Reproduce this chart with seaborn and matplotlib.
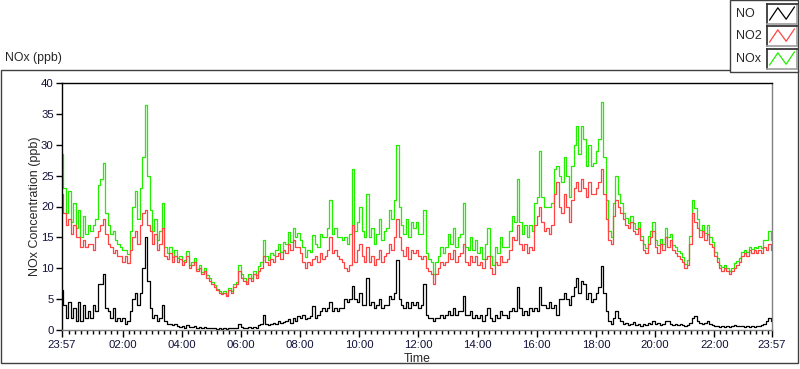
import numpy as np
import pandas as pd
import matplotlib
matplotlib.use("Agg")
import matplotlib.pyplot as plt
import seaborn as sns
from matplotlib.patches import Rectangle

# ---------------- data (5-minute samples starting 23:57) ----------------
NO2 = [
    22, 19, 17, 18, 15.5, 17, 15, 15, 13.5, 14.5, 13.5, 14,
    14, 13, 15, 16, 17, 18, 15.5, 14, 13.5, 12.5, 13, 12,
    12, 11, 12, 10.8, 13, 15, 16, 14, 17, 19, 19.5, 17,
    16, 14, 15.5, 13, 14, 16.5, 12, 11.5, 12.5, 11, 12, 11,
    11.5, 10.5, 11, 12, 10, 10.5, 11, 9.5, 10, 9, 9.5, 8.5,
    8, 7.5, 7, 6.5, 6, 5.8, 6, 5.5, 6.5, 6, 7, 7.5,
    9.5, 8.5, 8, 7.5, 8.5, 8, 9, 8.5, 9.5, 10, 12, 11,
    10.5, 11.5, 11, 12, 12.5, 11.5, 13, 12.5, 14, 13, 14.5, 13.5,
    13.5, 12.5, 11, 10, 11, 10.5, 11.5, 12, 11, 12.5, 11.5, 12,
    13, 15, 12.5, 13, 12, 11.5, 11, 10, 9.5, 10.5, 17, 11,
    13, 14, 12, 11, 13.5, 11, 12, 10.5, 11.5, 13, 11, 12,
    12.5, 14, 13, 15, 18, 15, 13, 12, 13.5, 11.5, 13, 12.5,
    13, 12, 11.5, 12, 10, 9.5, 9, 7.5, 9, 10, 11, 10.5,
    11, 12.5, 11.5, 13, 11, 12, 12.5, 14, 11, 10.5, 12, 11,
    12, 10.5, 11, 10, 11.5, 12, 10, 9, 11, 10.5, 12, 11,
    11, 11.5, 13, 15, 14.5, 17, 14, 13, 14, 12.5, 13.5, 13,
    17, 18.5, 20, 17.5, 16, 16.5, 15.5, 17, 22, 24, 20, 19,
    22, 20, 17.5, 21, 23, 24, 22.5, 24.5, 23, 21.5, 24, 22,
    22, 23, 24, 26, 22, 18, 14.5, 14, 18.5, 21, 20, 19,
    18, 17, 16.5, 17.5, 16, 15.5, 16.5, 14.5, 13, 12.5, 14, 15,
    16, 13.5, 12.5, 14, 13, 15, 13.5, 14.5, 13, 12.5, 12, 11.5,
    11, 10, 10.5, 14, 19, 17.5, 16.5, 15, 16, 14.5, 15.5, 14,
    13.5, 12, 11, 10, 9.5, 10, 9.5, 9, 9.5, 10, 10.5, 11,
    12, 12.5, 12, 13, 12.5, 13, 12.5, 13, 12.5, 13.5, 13, 14, 13,
]

NO = [
    6.5, 4, 2, 4.5, 2, 3.5, 1.5, 4.5, 1.5, 4, 2, 3,
    2, 4, 3, 7.5, 7.5, 9, 3.5, 3, 2, 3.5, 1.5, 2,
    1.5, 2, 1, 1.5, 3, 5, 6, 4, 6, 10, 15, 8,
    3.5, 2, 2.5, 1.5, 2, 4, 1.5, 1, 1, 0.8, 1, 0.7,
    0.5, 0.6, 0.4, 0.8, 0.5, 0.5, 0.7, 0.4, 0.5, 0.4, 0.5, 0.4,
    0.4, 0.3, 0.3, 0.2, 0.3, 0.2, 0.3, 0.2, 0.3, 0.3, 0.4, 0.3,
    1, 0.5, 0.4, 0.3, 0.5, 0.4, 0.5, 0.4, 0.8, 1, 2.5, 1,
    0.8, 1, 1.2, 1, 1.5, 1.2, 1.3, 1.5, 1.8, 1.2, 2, 1.5,
    2.2, 2, 2.5, 1.8, 2, 2.2, 3.9, 2, 2.5, 3, 3.5, 3,
    3.5, 4.5, 3, 3.5, 3, 3.5, 3.5, 5, 4.5, 5, 7.2, 5,
    4.5, 6, 4, 4, 8.5, 4, 4.5, 3.5, 4, 5, 3.5, 4,
    4, 5.5, 5, 6, 11.3, 5, 4, 3.5, 4.5, 3.5, 4.5, 4,
    4.5, 3.5, 4, 7.5, 2.5, 2, 2, 1.5, 2, 2, 2.5, 2,
    2.5, 3, 2.5, 3.5, 2.5, 3, 3, 5.5, 2.5, 2.5, 3, 2,
    2.5, 2, 2.5, 1.5, 2.5, 3.5, 2, 1.5, 2.5, 2, 3, 2.5,
    2.5, 2, 3, 3.5, 3, 7, 3.5, 2.5, 3, 2.5, 3.5, 3,
    3.5, 3, 7, 4, 4, 3.5, 4.5, 3.5, 4, 2.5, 5, 5,
    6, 5, 4, 5.5, 7, 8.5, 6, 8, 7.5, 5, 6, 4.5,
    5, 6, 7, 10.4, 6, 3, 1.5, 1, 2, 3, 2, 1.5,
    1, 1.2, 0.8, 1, 1.3, 0.8, 1, 0.7, 1, 0.8, 1.2, 1,
    1.5, 1, 1.2, 0.8, 1, 1.5, 1.5, 1, 0.8, 1, 0.8, 1,
    0.8, 0.7, 0.8, 1.2, 2, 2.2, 1.5, 1.2, 1, 1.2, 1.5, 1,
    0.8, 0.7, 0.6, 0.5, 0.7, 0.5, 0.6, 0.5, 0.6, 0.8, 0.7, 0.6,
    0.6, 0.5, 0.7, 0.5, 0.6, 0.5, 0.7, 0.6, 0.8, 1, 1.5, 2, 1.5,
]

NOX = [
    28.5, 23, 19, 22.5, 17.5, 20.5, 16.5, 19.5, 15, 18.5, 15.5, 17,
    16, 17, 18, 23.5, 24.5, 27, 19, 17, 15.5, 16, 14.5, 14,
    13.5, 13, 13, 12.3, 16, 20, 22.5, 18, 23, 28, 36.5, 25,
    19.5, 16, 18, 14.5, 16, 20.5, 13.5, 12.5, 13.5, 11.8, 13, 11.7,
    12, 11.1, 11.4, 12.8, 10.5, 11, 11.7, 9.9, 10.5, 9.4, 10, 8.9,
    8.4, 7.8, 7.3, 6.7, 6.3, 6, 6.3, 5.7, 6.8, 6.3, 7.4, 7.8,
    10.5, 9, 8.4, 7.8, 9, 8.4, 9.5, 8.9, 10.3, 11, 14.5, 12,
    11.3, 12.5, 12.2, 13, 14, 12.7, 14.3, 14, 15.8, 14.2, 16.5, 15,
    15.7, 14.5, 13.5, 11.8, 13, 12.7, 15.4, 14, 13.5, 15.5, 15, 15,
    16.5, 21, 15.5, 16.5, 15, 15, 14.5, 15, 14, 15.5, 26, 16,
    17.5, 20, 16, 15, 22, 15, 16.5, 14, 15.5, 18, 14.5, 16,
    16.5, 19.5, 18, 21, 30, 20, 17, 15.5, 18, 15, 17.5, 16.5,
    17.5, 15.5, 15.5, 19.5, 12.5, 11.5, 11, 9, 11, 12, 13.5, 12.5,
    13.5, 15.5, 14, 16.5, 13.5, 15, 15.5, 20.5, 13.5, 13, 15, 13,
    14.5, 12.5, 13.5, 11.5, 14, 16.5, 12, 10.5, 13.5, 12.5, 15, 13.5,
    13.5, 13.5, 16, 18.5, 17.5, 24.5, 17.5, 15.5, 17, 15, 17, 16,
    20.5, 21.5, 29, 21.5, 20, 20, 20, 20.5, 26, 26.5, 25, 24,
    28, 25, 21.5, 26.5, 30, 33, 28.5, 33, 31, 26.5, 30, 26.5,
    27, 29, 31, 37, 28, 21, 16, 15, 20.5, 25, 22, 20.5,
    19, 18.2, 17.3, 18.5, 17.3, 16.3, 17.5, 15.2, 14, 13.3, 15.2, 16,
    17.5, 14.5, 13.7, 14.8, 14, 16.5, 15, 15.5, 13.8, 13.5, 12.8, 12.5,
    11.8, 10.7, 11.3, 15.2, 21, 19.7, 18, 16.2, 17, 15.7, 17, 15,
    14.3, 12.7, 11.6, 10.5, 10.2, 10.5, 10.1, 9.5, 10.1, 10.8, 11.2, 11.6,
    12.6, 13, 12.7, 13.5, 13.1, 13.5, 13.2, 13.6, 13.3, 14.5, 14.5, 16, 14.5,
]

SERIES = ["NOx", "NO2", "NO"]
COLORS = {"NOx": "#22ee00", "NO2": "#ff4444", "NO": "#000000"}
TICK_LABELS = ["23:57", "02:00", "04:00", "06:00", "08:00", "10:00", "12:00",
               "14:00", "16:00", "18:00", "20:00", "22:00", "23:57"]
Y_TICKS = [0, 5, 10, 15, 20, 25, 30, 35, 40]

# minutes after 23:57
times = np.arange(len(NOX)) * 5

df = pd.DataFrame({
    "t": np.concatenate([times, times, times]),
    "v": np.array(NOX + NO2 + NO, dtype=float),
    "series": ["NOx"] * len(NOX) + ["NO2"] * len(NO2) + ["NO"] * len(NO),
})

# ---------------- figure ----------------
sns.set_theme(style="white")
plt.rcParams["font.family"] = ["Liberation Sans", "DejaVu Sans"]

W, H = 800, 369
fig = plt.figure(figsize=(8, 3.69), dpi=100)
fig.patch.set_facecolor("white")

def fx(px):
    return px / W

def fy(py):
    return 1 - py / H

ax = fig.add_axes([fx(62), fy(330), fx(772) - fx(62), fy(83) - fy(330)])

sns.lineplot(data=df, x="t", y="v", hue="series", hue_order=SERIES,
             palette=COLORS, linewidth=0.9, legend=False, ax=ax,
             estimator=None, drawstyle="steps-mid")

ax.set_xlim(0, 1440)
ax.set_ylim(0, 40)

majors = [0] + [123 + 120 * k for k in range(11)] + [1440]
minors = [m + 3 for m in range(12, 1440, 12) if (m + 3) not in majors]
ax.set_xticks(majors)
ax.set_xticklabels(TICK_LABELS)
ax.set_xticks(minors, minor=True)
ax.set_yticks(Y_TICKS)
ax.set_yticklabels([str(v) for v in Y_TICKS])

ax.tick_params(axis="x", which="major", bottom=True, length=5, width=1,
               color="black", direction="out", pad=2, labelsize=8.2,
               labelcolor="#10103a")
ax.tick_params(axis="x", which="minor", bottom=True, length=3, width=1,
               color="black", direction="out")
ax.tick_params(axis="y", which="major", left=True, length=4, width=1,
               color="black", direction="out", pad=2, labelsize=8.2,
               labelcolor="#10103a")

for side in ["left", "top"]:
    ax.spines[side].set_color("black")
    ax.spines[side].set_linewidth(1)
for side in ["right", "bottom"]:
    ax.spines[side].set_color("#808080")
    ax.spines[side].set_linewidth(1)
ax.set_xlabel("")
ax.set_ylabel("")
ax.grid(False)

fig.text(fx(417), fy(359), "Time", ha="center", va="center", fontsize=8.8)
fig.text(fx(35), fy(206), "NOx Concentration (ppb)", ha="center", va="center",
         rotation=90, fontsize=9)
fig.text(fx(5), fy(58), "NOx (ppb)", ha="left", va="center", fontsize=8.8)

# outer panel frame
fig.patches.append(Rectangle((fx(1), fy(363)), fx(798) - fx(1), fy(70) - fy(363),
                             transform=fig.transFigure, fill=False,
                             edgecolor="#404040", linewidth=1, zorder=0))
# legend box
fig.patches.append(Rectangle((fx(730), fy(72)), fx(798) - fx(730), fy(0) - fy(72),
                             transform=fig.transFigure, facecolor="white",
                             edgecolor="#404040", linewidth=1, zorder=5))

legend_rows = [("NO", 14), ("NO2", 36), ("NOx", 59)]
zig_x = [0, 1, 2, 3]
zig_y = [0.2, 0.85, 0.25, 0.9]
for name, yc in legend_rows:
    fig.text(fx(736), fy(yc), name, ha="left", va="center", fontsize=9, zorder=6)
    iax = fig.add_axes([fx(767), fy(yc + 10), fx(30), fy(0) - fy(20)], zorder=7)
    iax.plot(zig_x, zig_y, color=COLORS[name], lw=0.9)
    iax.set_xlim(-0.3, 3.3)
    iax.set_ylim(0, 1.05)
    iax.set_xticks([])
    iax.set_yticks([])
    iax.set_facecolor("white")
    for side in ["left", "top"]:
        iax.spines[side].set_color("#303030")
    for side in ["right", "bottom"]:
        iax.spines[side].set_color("#a0a0a0")

fig.savefig("out.png", dpi=100, facecolor="white")
